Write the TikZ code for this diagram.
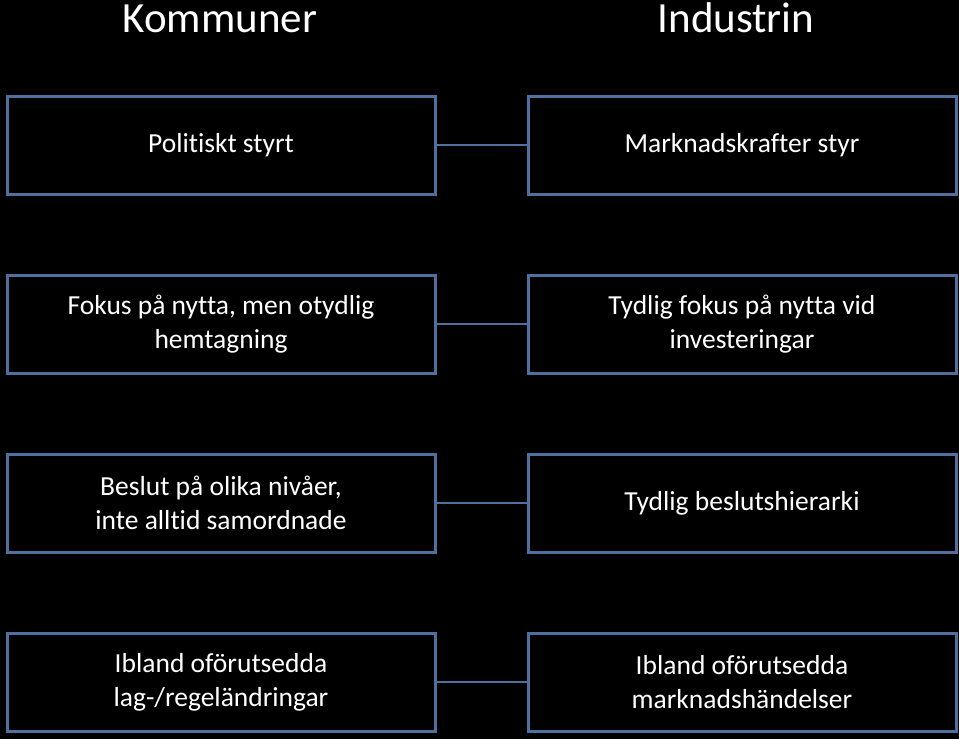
\documentclass[tikz,border=0pt]{standalone}
\usepackage{fontspec}
\setmainfont[Ligatures=NoCommon]{Carlito}
\definecolor{boxblue}{HTML}{4F6F9F}
\begin{document}
\begin{tikzpicture}[x=1pt,y=-1pt,
  cell/.style={draw=boxblue,line width=3pt,fill=black,minimum width=428pt,minimum height=98pt,inner sep=0pt,
    text=white,font=\fontsize{27.5}{34}\selectfont,align=center},
  head/.style={text=white,font=\fontsize{43}{50}\selectfont,inner sep=0pt},
  link/.style={draw=boxblue,line width=1.5pt}]
\fill[black] (0,0) rectangle (959,739);
\useasboundingbox (0,0) rectangle (959,739);
\node[head,anchor=base] (hk) at (220,32) {Kommuner};
\node[head,anchor=base] (hi) at (736,32) {Industrin};
\node[cell] (l1) at (221,145) {Politiskt styrt};
\node[cell] (r1) at (742,145) {Marknadskrafter styr};
\node[cell] (l2) at (221,324) {Fokus på nytta, men otydlig\\hemtagning};
\node[cell] (r2) at (742,324) {Tydlig fokus på nytta vid\\investeringar};
\node[cell] (l3) at (221,503) {Beslut på olika nivåer,\\inte alltid samordnade};
\node[cell] (r3) at (742,503) {Tydlig beslutshierarki};
\node[cell] (l4) at (221,682) {Ibland oförutsedda\\lag-/regeländringar};
\node[cell] (r4) at (742,682) {Ibland oförutsedda\\marknadshändelser};
\foreach \i in {1,2,3,4} \draw[link] (l\i.east) -- (r\i.west);
\end{tikzpicture}
\end{document}
